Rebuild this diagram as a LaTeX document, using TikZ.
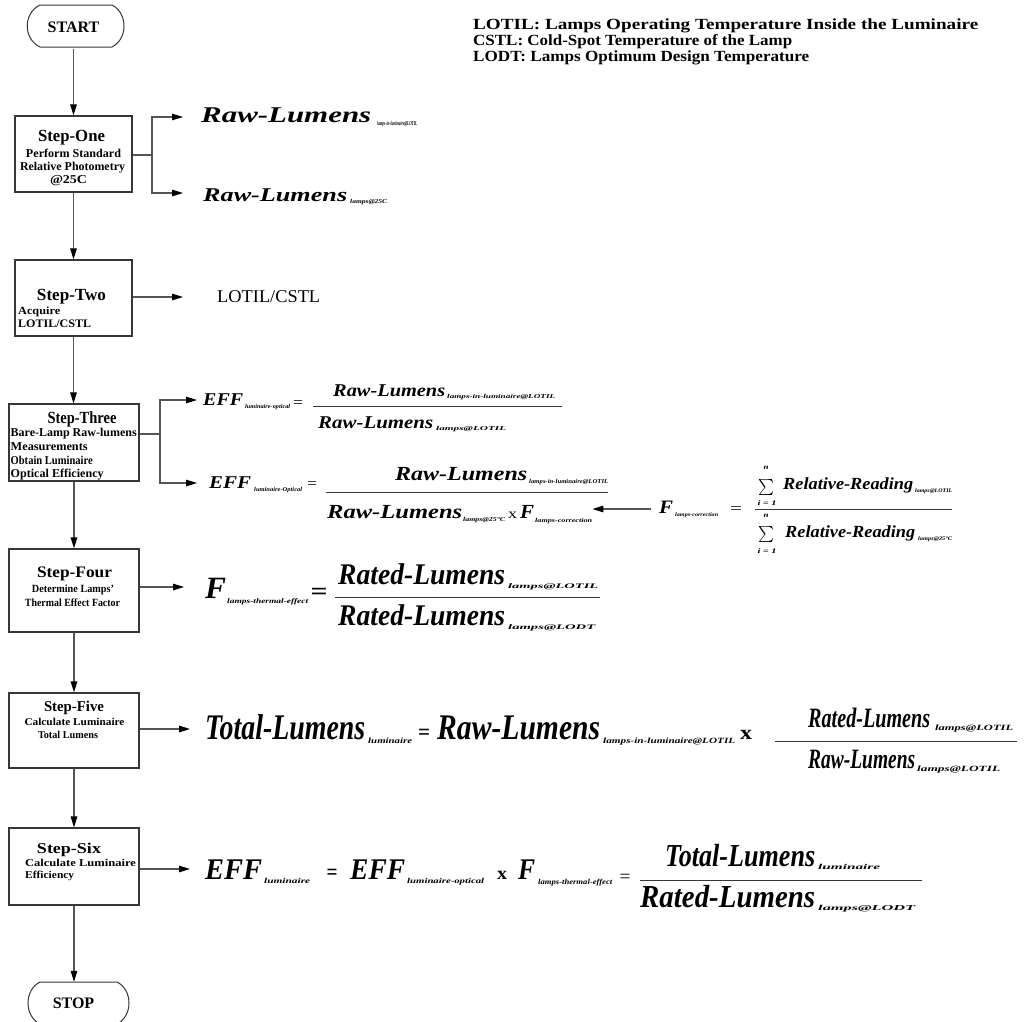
\documentclass[tikz,border=0pt]{standalone}
\usepackage{fontspec}
\setmainfont{Liberation Serif}
\usepackage{graphicx}
\usetikzlibrary{arrows.meta}
\definecolor{ln}{RGB}{85,85,85}
\definecolor{bx}{RGB}{55,55,55}
\newcommand\tx[7]{\node[inner sep=0pt,anchor=#2] (#1) at (#3,#4) {\fontsize{#5}{#5}\selectfont\resizebox{#6pt}{\height}{#7}};}
\newcommand\bi{\bfseries\itshape}
\begin{document}
\begin{tikzpicture}[x=1pt,y=-1pt,
  conn/.style={draw=ln, line width=1.2pt},
  arr/.style={conn,-{Triangle[length=11pt,width=6.5pt,color=black]}},
  stepbox/.style={draw=bx, line width=1.2pt, inner sep=0pt},
  term/.style={inner sep=0pt, minimum width=97pt, minimum height=42pt, font=\fontsize{16}{16}\selectfont\bfseries},
  fbar/.style={draw=bx, line width=1pt},
  sumsign/.style={inner sep=0pt}]
\useasboundingbox (0,0) rectangle (1027,1021);

% legend
\tx{lg1}{base west}{473}{29}{15.5}{505}{\bfseries LOTIL: Lamps Operating Temperature Inside the Luminaire}
\tx{lg2}{base west}{473}{45}{15.5}{319}{\bfseries CSTL: Cold-Spot Temperature of the Lamp}
\tx{lg3}{base west}{473}{61}{15.5}{336}{\bfseries LODT: Lamps Optimum Design Temperature}

% terminals
\node[term] (start) at (73.5,27.5) {START};
\draw[bx, line width=1pt] (40,5) -- (112,5) .. controls (128,13) and (128,39) .. (112,47) -- (40,47) .. controls (23,39) and (23,13) .. (40,5);
\node[term] (stop) at (73.5,1003) {STOP};
\draw[bx, line width=1pt] (40,982) -- (117,982) .. controls (133,990) and (133,1016) .. (117,1024) -- (40,1024) .. controls (24,1016) and (24,990) .. (40,982);

% step boxes
\node[stepbox, minimum width=117pt, minimum height=76pt] (s1) at (73.5,154) {};
\node[stepbox, minimum width=117pt, minimum height=76pt] (s2) at (73.5,298) {};
\node[stepbox, minimum width=130pt, minimum height=77pt] (s3) at (74,442.5) {};
\node[stepbox, minimum width=130pt, minimum height=83pt] (s4) at (74,590.5) {};
\node[stepbox, minimum width=130pt, minimum height=75pt] (s5) at (74,730.5) {};
\node[stepbox, minimum width=130pt, minimum height=77pt] (s6) at (74,866.5) {};

% main flow
\draw[arr] (start.south) -- (s1.north);
\draw[arr] (s1.south) -- (s2.north);
\draw[arr] (s2.south) -- (s2.south |- s3.north);
\draw[arr] (s3.south) -- (s4.north);
\draw[arr] (s4.south) -- (s5.north);
\draw[arr] (s5.south) -- (s6.north);
\draw[arr] (s6.south) -- (s6.south |- stop.north);

% Step-One
\tx{s1a}{base}{71.5}{141}{17}{67}{\bfseries Step-One}
\tx{s1b}{base}{73.5}{157}{12}{95}{\bfseries Perform Standard}
\tx{s1c}{base}{72.5}{170}{12}{105}{\bfseries Relative Photometry}
\tx{s1d}{base}{68.5}{183}{12}{37}{\bfseries @25C}
\tx{o1}{base west}{201}{122}{22.5}{170}{\bi Raw-Lumens}
\tx{o1s}{base west}{377}{125}{6}{40}{\bi lamps-in-luminaire@LOTIL}
\tx{o2}{base west}{203}{201}{19.5}{144}{\bi Raw-Lumens}
\tx{o2s}{base west}{350}{203}{6}{37}{\bi lamps@25C}
\coordinate (b1) at (152,155);
\coordinate (t1) at (183,117);
\coordinate (t2) at (183,193);
\draw[arr] (s1.east |- b1) -- (b1) |- (t1);
\draw[arr] (b1) |- (t2);

% Step-Two
\tx{s2a}{base}{71.5}{300}{17}{69}{\bfseries Step-Two}
\tx{s2b}{base west}{18}{314}{11}{42}{\bfseries Acquire}
\tx{s2c}{base west}{18}{327}{11.5}{73}{\bfseries LOTIL/CSTL}
\tx{o3}{base west}{217}{302}{18}{103}{LOTIL/CSTL}
\coordinate (t3) at (183,297);
\draw[arr] (s2.east |- t3) -- (t3);

% Step-Three
\tx{s3a}{base}{82}{423}{17}{69}{\bfseries Step-Three}
\tx{s3b}{base west}{10.5}{436}{12}{126}{\bfseries Bare-Lamp Raw-lumens}
\tx{s3c}{base west}{10.5}{450}{12}{77}{\bfseries Measurements}
\tx{s3d}{base west}{10.5}{464}{12}{82}{\bfseries Obtain Luminaire}
\tx{s3e}{base west}{10.5}{477}{12}{93}{\bfseries Optical Efficiency}
\coordinate (b3) at (160,434);
\coordinate (t4) at (197,400);
\coordinate (t5) at (197,483);
\draw[arr] (s3.east |- b3) -- (b3) |- (t4);
\draw[arr] (b3) |- (t5);

% eq 1
\tx{q1a}{base west}{203}{405}{18}{40}{\bi EFF}
\tx{q1b}{base west}{245}{408}{6}{45}{\bi luminaire-optical}
\tx{q1c}{base}{298}{407}{15}{10}{=}
\draw[fbar] (313,406) -- (562,406);
\tx{q1d}{base west}{333}{396}{18}{112}{\bi Raw-Lumens}
\tx{q1e}{base west}{447}{398}{6}{108}{\bi lamps-in-luminaire@LOTIL}
\tx{q1f}{base west}{318}{428}{18}{115}{\bi Raw-Lumens}
\tx{q1g}{base west}{436}{430}{6}{70}{\bi lamps@LOTIL}

% eq 2
\tx{q2a}{base west}{209}{488}{18}{42}{\bi EFF}
\tx{q2b}{base west}{254}{491}{6}{48}{\bi luminaire-Optical}
\tx{q2c}{base}{312}{488}{15}{10}{=}
\draw[fbar] (326,492) -- (608,492);
\tx{q2d}{base west}{395}{480}{20}{132}{\bi Raw-Lumens}
\tx{q2e}{base west}{529}{483}{6}{79}{\bi lamps-in-luminaire@LOTIL}
\tx{q2f}{base west}{327}{518}{20}{135}{\bi Raw-Lumens}
\tx{q2g}{base west}{463}{521}{6}{42}{\bi lamps@25°C}
\tx{q2h}{base west}{508}{518}{14}{9}{x}
\tx{q2i}{base west}{520}{518}{20}{14}{\bi F}
\tx{q2j}{base west}{535}{522}{6}{57}{\bi lamps-correction}

% correction factor
\tx{c1}{base west}{659}{513}{19}{14}{\bi F}
\tx{c2}{base west}{675}{516}{5.5}{43}{\bi lamps-correction}
\tx{c3}{base}{736}{513}{15}{12}{=}
\draw[fbar] (755,509) -- (952,509);
\node[sumsign] (c4) at (766,487) {\resizebox*{16pt}{16pt}{$\sum$}};
\tx{c5}{base}{766}{469}{7}{5}{\bi n}
\tx{c6}{base}{767}{505}{7}{19}{\bi i = 1}
\tx{c7}{base west}{783}{489}{17}{130}{\bi Relative-Reading}
\tx{c8}{base west}{915}{492}{5.5}{37}{\bi lamps@LOTIL}
\node[sumsign] (c9) at (766,534) {\resizebox*{16pt}{16pt}{$\sum$}};
\tx{c10}{base}{766}{517}{7}{5}{\bi n}
\tx{c11}{base}{767}{553}{7}{19}{\bi i = 1}
\tx{c12}{base west}{785}{537}{17}{130}{\bi Relative-Reading}
\tx{c13}{base west}{918}{540}{5.5}{34}{\bi lamps@25°C}
\coordinate (ca) at (651,509);
\draw[arr] (ca) -- (ca -| q2j.east);

% Step-Four
\tx{s4a}{base}{74.5}{577}{16}{75}{\bfseries Step-Four}
\tx{s4b}{base}{73}{592}{11}{82}{\bfseries Determine Lamps'}
\tx{s4c}{base}{72.5}{606}{11}{95}{\bfseries Thermal Effect Factor}
\coordinate (t6) at (184,587);
\draw[arr] (s4.east |- t6) -- (t6);
\tx{f1}{base west}{205}{598}{31}{21}{\bi F}
\tx{f2}{base west}{227}{603}{7}{81}{\bi lamps-thermal-effect}
\tx{f3}{base}{319}{599}{24}{17}{\bfseries =}
\draw[fbar] (335,597) -- (600,597);
\tx{f4}{base west}{338}{584}{30}{167}{\bi Rated-Lumens}
\tx{f5}{base west}{508}{588}{7}{90}{\bi lamps@LOTIL}
\tx{f6}{base west}{338}{625}{30}{167}{\bi Rated-Lumens}
\tx{f7}{base west}{508}{629}{7}{87}{\bi lamps@LODT}

% Step-Five
\tx{s5a}{base}{74}{711}{15}{60}{\bfseries Step-Five}
\tx{s5b}{base}{74.5}{725}{10.5}{100}{\bfseries Calculate Luminaire}
\tx{s5c}{base}{68}{738}{10.5}{60}{\bfseries Total Lumens}
\coordinate (t7) at (190,729);
\draw[arr] (s5.east |- t7) -- (t7);
\tx{g1}{base west}{205}{739}{36}{160}{\bi Total-Lumens}
\tx{g2}{base west}{368}{743}{8}{44}{\bi luminaire}
\tx{g3}{base}{424}{739}{22}{12}{\bfseries =}
\tx{g4}{base west}{437}{739}{36}{163}{\bi Raw-Lumens}
\tx{g5}{base west}{603}{743}{8}{132}{\bi lamps-in-luminaire@LOTIL}
\tx{g6}{base west}{740}{739}{20}{12}{\bfseries x}
\draw[fbar] (775,741) -- (1017,741);
\tx{g7}{base west}{808}{727}{28}{122}{\bi Rated-Lumens}
\tx{g8}{base west}{935}{730}{8}{78}{\bi lamps@LOTIL}
\tx{g9}{base west}{808}{768}{28}{107}{\bi Raw-Lumens}
\tx{g10}{base west}{917}{771}{8}{83}{\bi lamps@LOTIL}

% Step-Six
\tx{s6a}{base}{69}{853}{15}{64}{\bfseries Step-Six}
\tx{s6b}{base}{80.5}{866}{10.5}{111}{\bfseries Calculate Luminaire}
\tx{s6c}{base west}{25}{878}{10.5}{49}{\bfseries Efficiency}
\coordinate (t8) at (190,869);
\draw[arr] (s6.east |- t8) -- (t8);
\tx{h1}{base west}{205}{879}{30}{57}{\bi EFF}
\tx{h2}{base west}{264}{883}{7.5}{46}{\bi luminaire}
\tx{h3}{base}{332}{879}{22}{11}{\bfseries =}
\tx{h4}{base west}{350}{879}{30}{55}{\bi EFF}
\tx{h5}{base west}{407}{883}{7.5}{77}{\bi luminaire-optical}
\tx{h6}{base west}{497}{879}{18}{10}{\bfseries x}
\tx{h7}{base west}{518}{879}{30}{17}{\bi F}
\tx{h8}{base west}{538}{884}{7.5}{74}{\bi lamps-thermal-effect}
\tx{h9}{base}{625}{882}{18}{11}{=}
\draw[fbar] (640,880) -- (922,880);
\tx{h10}{base west}{665}{866}{32}{150}{\bi Total-Lumens}
\tx{h11}{base west}{818}{869}{7.5}{62}{\bi luminaire}
\tx{h12}{base west}{640}{907}{32}{175}{\bi Rated-Lumens}
\tx{h13}{base west}{818}{910}{7.5}{97}{\bi lamps@LODT}
\end{tikzpicture}
\end{document}
